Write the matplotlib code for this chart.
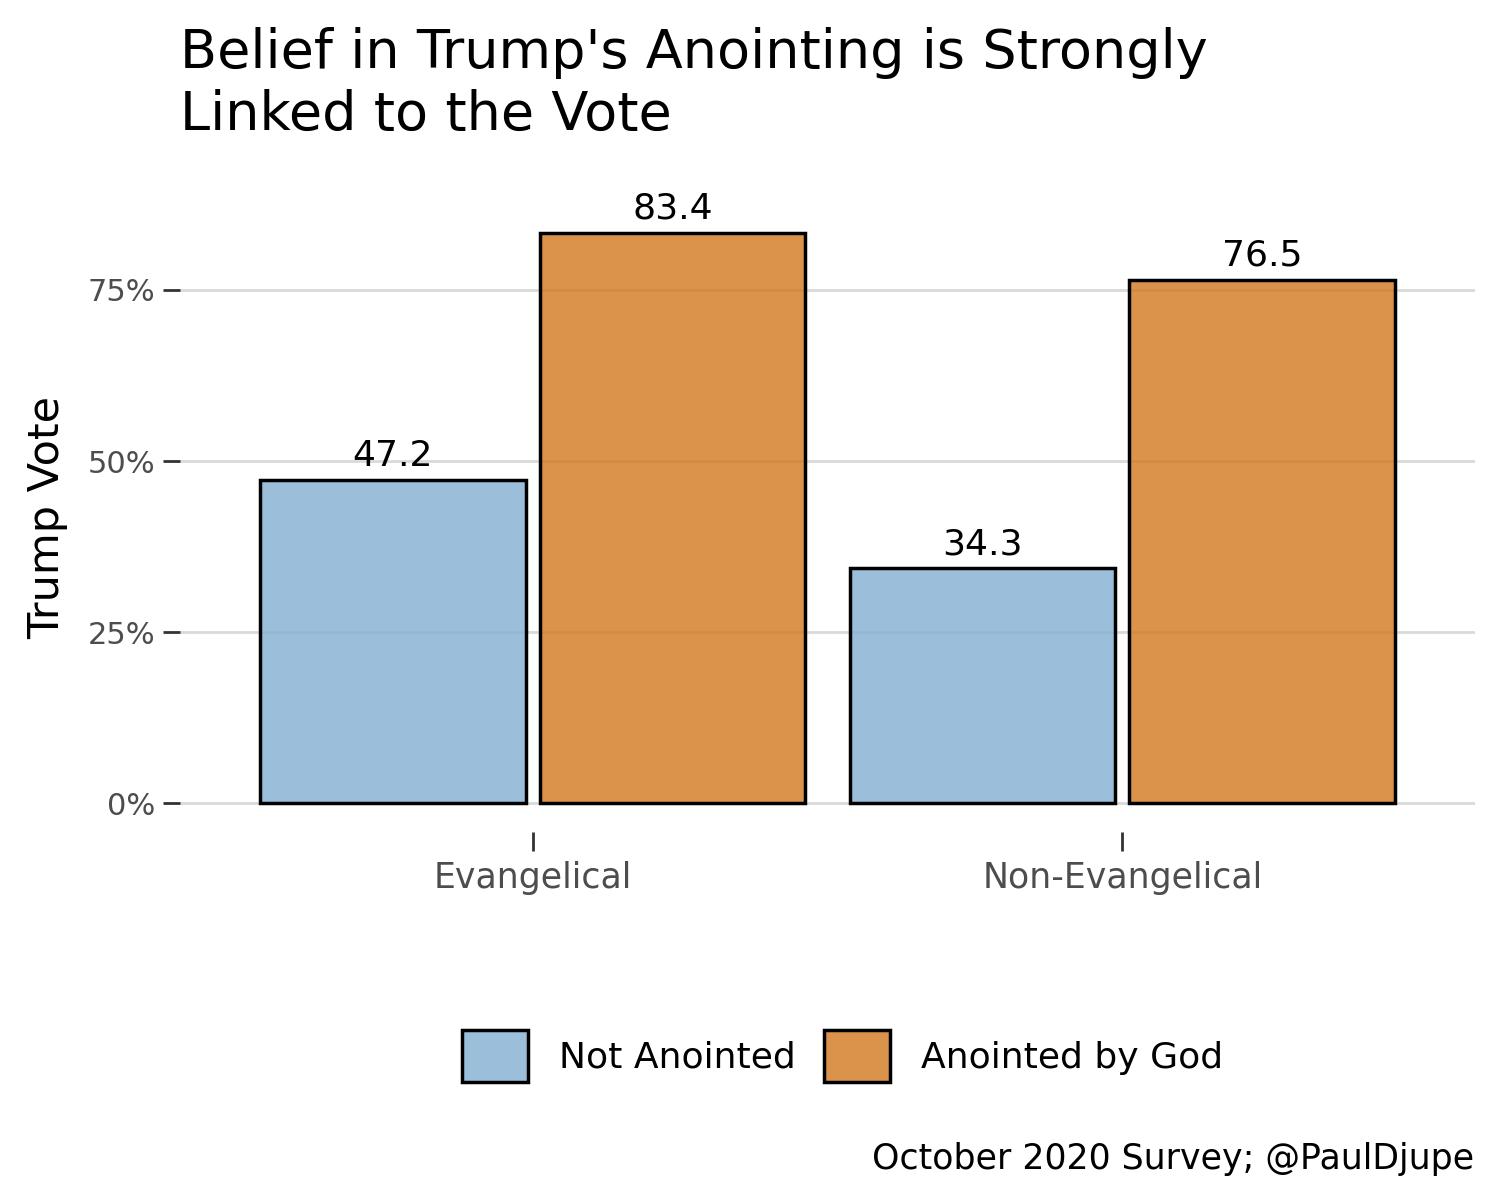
import numpy as np
import matplotlib.pyplot as plt
from matplotlib.patches import Patch
from matplotlib.colors import to_rgba
from matplotlib.ticker import PercentFormatter

# data
groups = ['Evangelical', 'Non-Evangelical']
series = ['Not Anointed', 'Anointed by God']
not_anointed = [47.2, 34.3]
anointed = [83.4, 76.5]

colors = [to_rgba('#82B0D1', 0.8), to_rgba('#D2781F', 0.8)]

plt.rcParams['font.family'] = ['DejaVu Sans']

fig = plt.figure(figsize=(15, 12), dpi=100)
ax = fig.add_axes([0.12, 0.307, 0.863, 0.523])

x = np.arange(1, len(groups) + 1)
width = 0.45
offset = 0.237

for vals, off, col in [(not_anointed, -offset, colors[0]), (anointed, offset, colors[1])]:
    bars = ax.bar(x + off, vals, width=width, facecolor=col,
                  edgecolor='black', linewidth=2.5, zorder=3)
    for b, v in zip(bars, vals):
        ax.annotate(f'{v:.1f}', (b.get_x() + b.get_width() / 2, v),
                    xytext=(0, 5), textcoords='offset points',
                    ha='center', va='bottom', fontsize=26, color='black')

# ggplot-ish look
ax.set_xlim(0.402, 2.597)
ax.set_ylim(-4.17, 87.57)
ax.set_yticks([0, 25, 50, 75])
ax.yaxis.set_major_formatter(PercentFormatter(decimals=0))
ax.set_xticks(x)
ax.set_xticklabels(groups)
ax.grid(axis='y', color='#d9d9d9', linewidth=2, zorder=0)
ax.set_axisbelow(True)
for s in ax.spines.values():
    s.set_visible(False)
ax.tick_params(axis='y', length=12, width=2, color='#333333', labelsize=22,
               labelcolor='#4d4d4d', pad=6)
ax.tick_params(axis='x', length=14, width=2, color='#333333', labelsize=25,
               labelcolor='#4d4d4d', pad=7)
ax.set_ylabel('Trump Vote', fontsize=31, labelpad=14)

fig.text(0.12, 0.9775, "Belief in Trump's Anointing is Strongly\nLinked to the Vote",
         fontsize=39, ha='left', va='top', linespacing=1.25)

handles = [Patch(facecolor=c, edgecolor='black', linewidth=2.5) for c in colors]
fig.legend(handles, series, loc='center', bbox_to_anchor=(0.5617, 0.12), ncol=2,
           frameon=False, fontsize=26, handlelength=1.83, handleheight=1.83,
           handletextpad=0.85, columnspacing=0.8)

fig.text(0.983, 0.02, 'October 2020 Survey; @PaulDjupe', fontsize=25,
         ha='right', va='bottom')

plt.savefig('out.png', dpi=100)
